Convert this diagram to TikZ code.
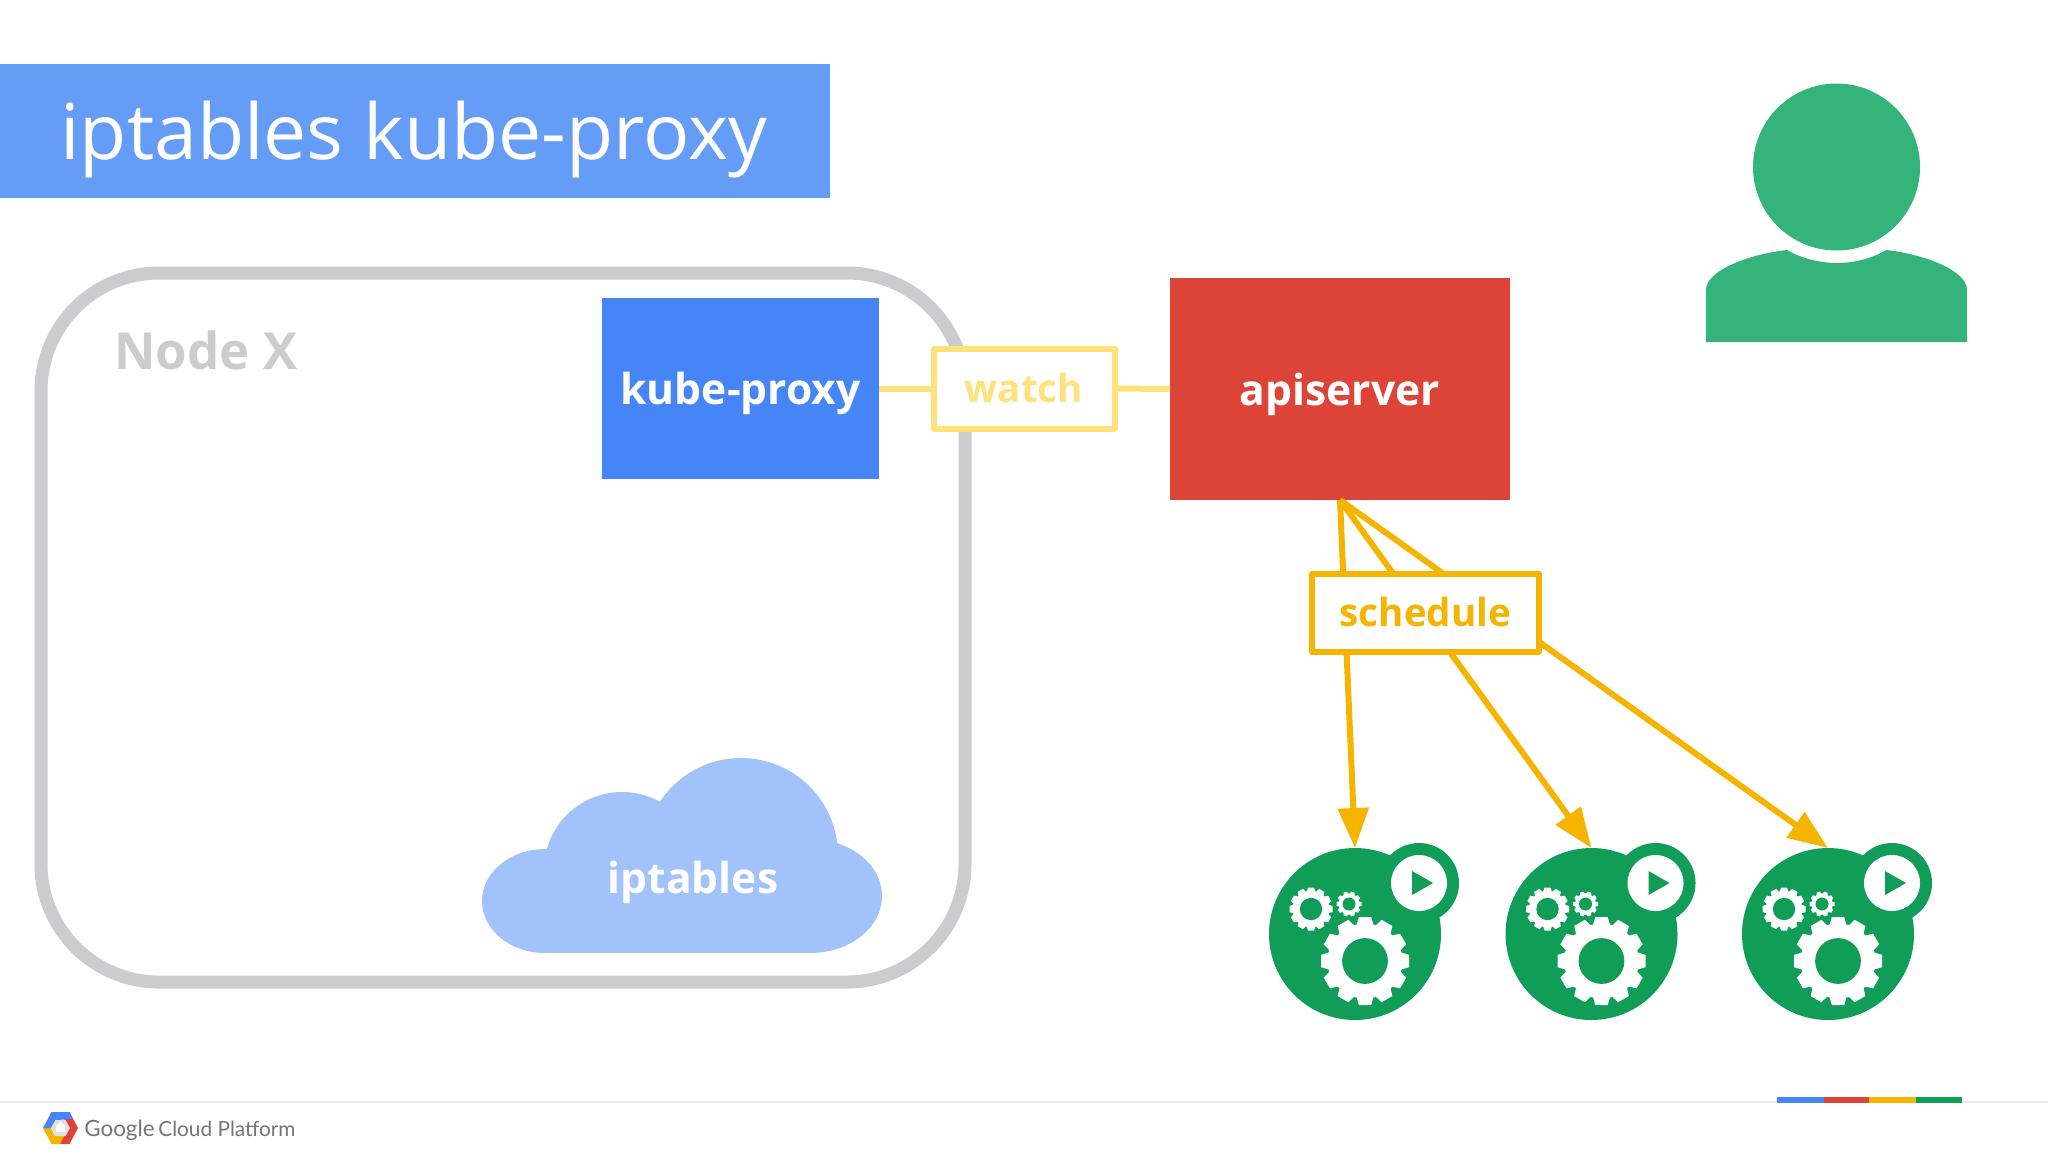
\documentclass[tikz,border=0pt]{standalone}
\usepackage{fontspec}
\setmainfont{Open Sans}
\newfontfamily\footfont{Lato}
\usetikzlibrary{arrows.meta}
\definecolor{titleblue}{HTML}{659CF6}
\definecolor{proxyblue}{HTML}{4685F6}
\definecolor{cloudblue}{HTML}{A1C2FA}
\definecolor{apired}{HTML}{DB4437}
\definecolor{watchyellow}{HTML}{FFE27C}
\definecolor{scheduleyellow}{HTML}{F4B400}
\definecolor{podgreen}{HTML}{0F9D58}
\definecolor{persongreen}{HTML}{34B47B}
\definecolor{nodegray}{HTML}{CCCCCE}
\definecolor{footgray}{HTML}{757575}
\newcommand{\podgear}[4]{
    \fill[white] (#1,#2) circle[radius=0.85*#3];
    \foreach \a in {1,...,#4}
        \fill[white,shift={(#1,#2)},rotate=\a*360/#4] (0.8*#3,-0.2*#3) -- (#3,-0.14*#3) -- (#3,0.14*#3) -- (0.8*#3,0.2*#3) -- cycle;
    \fill[podgreen] (#1,#2) circle[radius=0.52*#3];
}
\tikzset{
    box/.style={rectangle,inner sep=0pt,outer sep=0pt},
    filledbox/.style={box,text=white,text depth=0pt,font=\bfseries\fontsize{21.3}{24}\selectfont},
    labelbox/.style={box,draw,fill=white,line width=3pt,line join=round,text depth=1pt,font=\bfseries\fontsize{19.3}{24}\selectfont},
    watchline/.style={watchyellow,line width=3pt},
    scheduleline/.style={scheduleyellow,line width=3pt,-{Triangle[length=20pt,width=15pt]}},
    podbody/.style={circle,fill=podgreen,inner sep=0pt,outer sep=0pt,minimum size=86pt},
    podicons/.pic={
        \fill[podgreen] (64,-51) circle[radius=40];
        \fill[white] (64,-51) circle[radius=28];
        \fill[podgreen] (57,-63) -- (78,-51) -- (57,-39) -- cycle;
        \podgear{-44}{-25}{21.5}{12}
        \podgear{-6}{-30}{12.5}{10}
        \podgear{10}{27}{44}{12}
    }
}
\begin{document}
\begin{tikzpicture}[x=0.5pt,y=-0.5pt]
    \useasboundingbox (0,0) rectangle (2048,1153);
    \fill[white] (0,0) rectangle (2048,1153);

    % title
    \node[rectangle,fill=titleblue,inner sep=0pt,minimum width=415pt,minimum height=67pt] (titleband) at (415,131) {};
    \node[anchor=base west,inner sep=0pt,text=white,font=\fontsize{38.5}{42}\selectfont] (titletext) at (60,159) {iptables kube-proxy};

    % node x
    \node[rectangle,draw=nodegray,line width=6.5pt,rounded corners=59pt,inner sep=0pt,minimum width=462pt,minimum height=354.5pt] (nodex) at (503,627.5) {};
    \node[anchor=west,inner sep=0pt,text=nodegray,font=\bfseries\fontsize{25.5}{30}\selectfont] (nodexlabel) at (114,350) {Node X};
    \node[filledbox,fill=proxyblue,minimum width=138.5pt,minimum height=90.5pt] (proxy) at (740.5,388.5) {kube-proxy};

    % cloud
    \fill[cloudblue] (545,901) ellipse[x radius=63,y radius=52];
    \fill[cloudblue] (622,870) circle[radius=78];
    \fill[cloudblue] (741,855) circle[radius=97];
    \fill[cloudblue] (810,896) ellipse[x radius=72,y radius=57];
    \fill[cloudblue] (545,860) rectangle (810,953);
    \node[box,text=white,text depth=0pt,font=\bfseries\fontsize{21.3}{24}\selectfont] (iptables) at (693,877) {iptables};

    % apiserver
    \node[filledbox,fill=apired,minimum width=170pt,minimum height=111pt] (api) at (1340,389) {apiserver};

    % watch
    \node[labelbox,draw=watchyellow,text=watchyellow,minimum width=90.5pt,minimum height=40pt] (watch) at (1024,388.5) {watch};
    \draw[watchline] (proxy.east) -- (watch.west);
    \draw[watchline] (watch.east) -- (api.west);

    % pods
    \node[podbody] (poda) at (1355,934) {};
    \node[podbody] (podb) at (1591.5,934) {};
    \node[podbody] (podc) at (1828,934) {};
    \pic at (poda) {podicons};
    \pic at (podb) {podicons};
    \pic at (podc) {podicons};

    % schedule
    \draw[scheduleline] (api.south) -- (poda.north);
    \draw[scheduleline] (api.south) -- (podb.north);
    \draw[scheduleline] (api.south) -- (podc.north);
    \node[labelbox,draw=scheduleyellow,text=scheduleyellow,minimum width=113.5pt,minimum height=39pt] (schedule) at (1425.5,612.5) {schedule};

    % user
    \fill[persongreen] (1836.5,167) circle[radius=83.5];
    \fill[persongreen] (1706,342) -- (1706,290) .. controls (1706,270) and (1750,254) .. (1787,250) .. controls (1800,258) and (1820,263) .. (1837,263) .. controls (1855,263) and (1873,258) .. (1886,250) .. controls (1923,254) and (1967,270) .. (1967,290) -- (1967,342) -- cycle;

    % footer
    \draw[line width=1pt,draw=black!8] (0,1102) -- (2048,1102);
    \fill[proxyblue] (1777,1097) rectangle (1824,1103);
    \fill[apired] (1824,1097) rectangle (1869,1103);
    \fill[scheduleyellow] (1869,1097) rectangle (1916,1103);
    \fill[podgreen] (1916,1097) rectangle (1962,1103);
    \fill[apired] (69.5,1112) -- (78,1128) -- (69.5,1144) -- (58,1144) -- (62,1134) -- (67,1128) -- (64,1120) -- cycle;
    \fill[scheduleyellow] (43,1128) -- (51.5,1144) -- (60,1144) -- (64,1136) -- (55,1136) -- (51,1128) -- cycle;
    \fill[proxyblue] (43,1128) -- (51.5,1112) -- (69.5,1112) -- (73,1119) -- (56,1120) -- (51,1128) -- cycle;
    \fill[black!12] (51,1128) -- (55.5,1120) -- (65.5,1120) -- (70,1128) -- (65.5,1136) -- (55.5,1136) -- cycle;
    \fill[white] (60.5,1122) -- (65,1126) -- (65,1132) -- (56,1132) -- (56,1126) -- cycle;
    \node[anchor=base west,inner sep=0pt,text=footgray,font=\footfont\fontsize{11.2}{14}\selectfont] (google) at (84,1136) {Google};
    \node[anchor=base west,inner sep=0pt,text=footgray,font=\footfont\fontsize{10.4}{14}\selectfont] (cloudplatform) at (158,1136) {Cloud Platform};
\end{tikzpicture}
\end{document}
